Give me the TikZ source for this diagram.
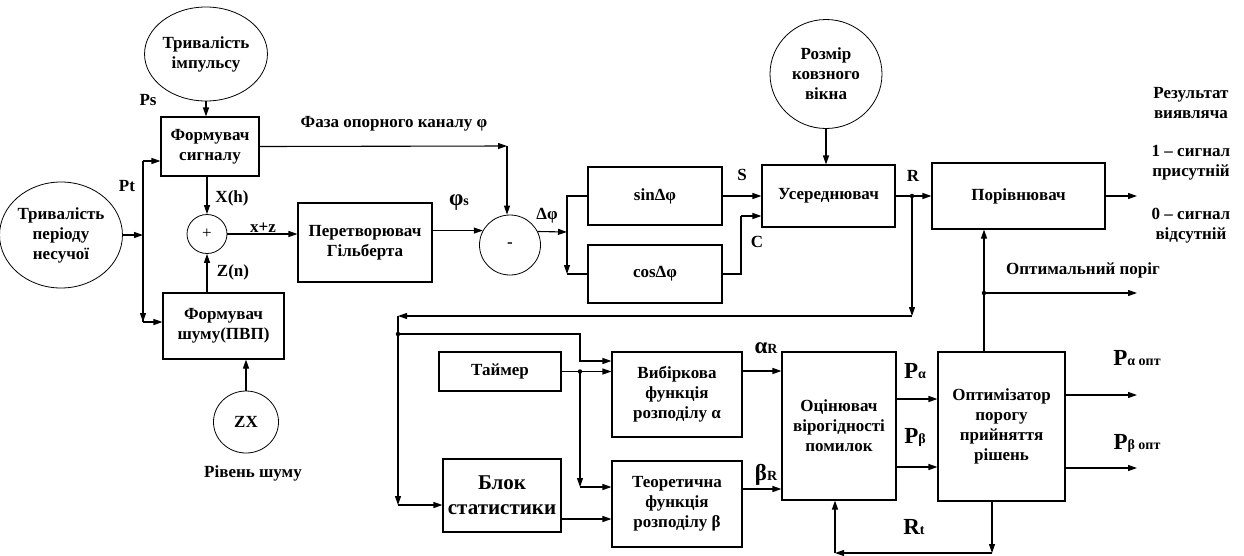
\documentclass[tikz,border=0pt]{standalone}
\usepackage{fontspec}
\setmainfont{Liberation Serif}
\usetikzlibrary{arrows.meta,calc,shapes.geometric}
\newcommand{\bigf}{\fontsize{23}{24}\selectfont}
\newcommand{\smf}{\fontsize{14}{14}\selectfont}
\begin{document}
\begin{tikzpicture}[x=1pt,y=-1pt,line width=1.1pt,
  txt/.style={font=\bfseries\fontsize{17}{20}\selectfont, inner sep=0pt, align=center},
  box/.style={txt, draw, rectangle},
  circ/.style={txt, draw, ellipse, line width=0.8pt},
  arr/.style={-{Triangle[length=9pt,width=6pt]}},
  dot/.style={circle, fill, inner sep=0pt, minimum size=4.5pt}]
\useasboundingbox (0,0) rectangle (1244,555);
% circles
\node[circ, minimum width=94, minimum height=94] (c1) at (206,54) {Тривалість\\імпульсу};
\node[circ, minimum width=108, minimum height=106] (c2) at (61,235) {Тривалість\\періоду\\несучої};
\node[circ, minimum width=112, minimum height=109] (c3) at (826,74) {Розмір\\ковзного\\вікна};
\node[circ, minimum width=65, minimum height=62] (zx) at (246,422) {ZX};
\node[circ, minimum width=40, minimum height=39, font=\fontsize{17}{17}\selectfont] (plus) at (207,234) {+};
\node[circ, minimum width=61, minimum height=60] (minus) at (510,245) {-};
% boxes
\node[box, minimum width=98, minimum height=59] (fs) at (210,146.5) {Формувач\\сигналу};
\node[box, minimum width=134, minimum height=79] (hil) at (365,242.5) {Перетворювач\\Гільберта};
\node[box, minimum width=121, minimum height=66] (fn) at (223.5,326) {Формувач\\шуму(ПВП)};
\node[box, minimum width=134, minimum height=58] (sin) at (655,196) {sinΔφ};
\node[box, minimum width=134, minimum height=58] (cos) at (655,274) {cosΔφ};
\node[box, minimum width=133, minimum height=62] (avg) at (828.5,196) {Усереднювач};
\node[box, minimum width=173, minimum height=66] (cmp) at (1018.5,196) {Порівнювач};
\node[box, minimum width=122, minimum height=39] (tmr) at (500,371.5) {Таймер};
\node[box, minimum width=118, minimum height=73, font=\bfseries\fontsize{21}{25}\selectfont] (stat) at (502,495.5) {Блок\\статистики};
\node[box, minimum width=130, minimum height=85] (vyb) at (677,394.5) {Вибіркова\\функція\\розподілу α};
\node[box, minimum width=130, minimum height=86] (teor) at (677,504) {Теоретична\\функція\\розподілу β};
\node[box, minimum width=114, minimum height=148] (est) at (839,426) {Оцінювач\\вірогідності\\помилок};
\node[box, minimum width=127, minimum height=149] (opt) at (1001.5,426.5) {Оптимізатор\\порогу\\прийняття\\рішень};
% coordinates
\coordinate (jp) at (143,235);
\coordinate (pt1) at (143,161);
\coordinate (pt2) at (143,322);
\coordinate (phc) at (507,146);
\coordinate (dj) at (567,232);
\coordinate (cj) at (741,216);
\coordinate (rd) at (912,196);
\coordinate (r1) at (912,316);
\coordinate (r2) at (398,316);
\coordinate (r3) at (398,505);
\coordinate (bd) at (398,334);
\coordinate (bc) at (580,361);
\coordinate (td) at (580,371.5);
\coordinate (te) at (580,487);
\coordinate (od) at (984,293);
\coordinate (oe) at (1137,293);
\coordinate (ob) at (992,553);
\coordinate (oc) at (835,553);
\coordinate (cme) at (1137,196);
\coordinate (pao) at (1137,395);
\coordinate (pbo) at (1137,468);
% connectors left part
\draw[arr] (c1.south) -- (c1.south |- fs.north);
\draw[arr] (c2.east) -- (jp);
\draw (pt1) -- (pt2);
\draw[arr] (pt1) -- (fs.west |- pt1);
\draw[arr] (jp) -- (pt2);
\draw[arr] (pt2) -- (fn.west |- pt2);
\draw[arr] (plus.north |- fs.south) -- (plus.north);
\draw[arr] (plus.south |- fn.north) -- (plus.south);
\draw[arr] (plus.east) -- (plus.east -| hil.west);
\draw[arr] (zx.north) -- (zx.north |- fn.south);
\draw[arr] (fs.east) -- (phc);
\draw[arr] (phc) -- (phc |- minus.north);
\draw[arr] (hil.east |- minus.152) -- (minus.152);
\draw[arr] (minus.26) -- (dj);
\draw (dj) |- (sin.west);
\draw[arr] (dj) -- (dj |- cos.west);
\draw (dj |- cos.west) -- (cos.west);
\draw[arr] (sin.east) -- (avg.west);
\draw (cos.east) -| (cj);
\draw[arr] (cj) -- (cj -| avg.west);
\draw[arr] (c3.south) -- (c3.south |- avg.north);
\draw[arr] (avg.east) -- (cmp.west);
\node[dot] at (rd) {};
\draw[arr] (cmp.east) -- (cme);
% feedback loop
\draw[arr] (rd) -- (r1);
\draw[arr] (r1) -- (r2);
\draw[arr] (r2) -- (r3);
\draw[arr] (r3) -- (r3 -| stat.west);
\node[dot] at (bd) {};
\draw[arr] (bd) -| (bc) -- (bc -| vyb.west);
\draw[arr] (tmr.east) -- (tmr.east -| vyb.west);
\node[dot] at (td) {};
\draw[arr] (td) -- (te);
\draw[arr] (te) -- (te -| teor.west);
\draw[arr] (stat.east |- 0,519) -- (teor.west |- 0,519);
\draw[arr] (vyb.east |- 0,371) -- (est.west |- 0,371);
\draw[arr] (teor.east |- 0,489) -- (est.west |- 0,489);
\draw[arr] (est.east |- 0,399) -- (opt.west |- 0,399);
\draw[arr] (est.east |- 0,467) -- (opt.west |- 0,467);
\draw[arr] (opt.east |- pao) -- (pao);
\draw[arr] (opt.east |- pbo) -- (pbo);
\draw (od |- opt.north) -- (od);
\node[dot] at (od) {};
\draw[arr] (od) -- (od |- cmp.south);
\draw[arr] (od) -- (oe);
\draw[arr] (ob |- opt.south) -- (ob);
\draw[arr] (ob) -- (oc);
\draw[arr] (oc) -- (oc |- est.south);
% labels
\node[txt] (lps) at (148,100) {Ps};
\node[txt] (lpt) at (127,186) {Pt};
\node[txt] (lxh) at (232,198) {X(h)};
\node[txt] (lzn) at (233,272) {Z(n)};
\node[txt] (lxz) at (263,228) {x+z};
\node[txt] (lph) at (394,124) {Фаза опорного каналу φ};
\node[txt] (lphs) at (459,203) {{\bigf φ}{\smf s}};
\node[txt] (ldp) at (547,216) {Δφ};
\node[txt] (ls) at (742,175) {S};
\node[txt] (lc) at (757,242) {C};
\node[txt] (lr) at (913,176) {R};
\node[txt] (lar) at (766,348) {{\bigf α}{\smf R}};
\node[txt] (lbr) at (766,475) {{\bigf β}{\smf R}};
\node[txt] (lpa) at (915,371) {{\bigf P}{\smf α}};
\node[txt] (lpb) at (915,437) {{\bigf P}{\smf β}};
\node[txt] (lpao) at (1137,358) {{\bigf P}{\smf α опт}};
\node[txt] (lpbo) at (1137,443) {{\bigf P}{\smf β опт}};
\node[txt] (lrt) at (914,527) {{\bigf R}{\smf t}};
\node[txt] (lrsh) at (253,473) {Рівень шуму};
\node[txt] (lopt) at (1083,270) {Оптимальний поріг};
\node[txt] (lres) at (1191,103) {Результат\\виявляча};
\node[txt] (l1) at (1191,163) {1 – сигнал\\присутній};
\node[txt] (l0) at (1191,226) {0 – сигнал\\відсутній};
\end{tikzpicture}
\end{document}
